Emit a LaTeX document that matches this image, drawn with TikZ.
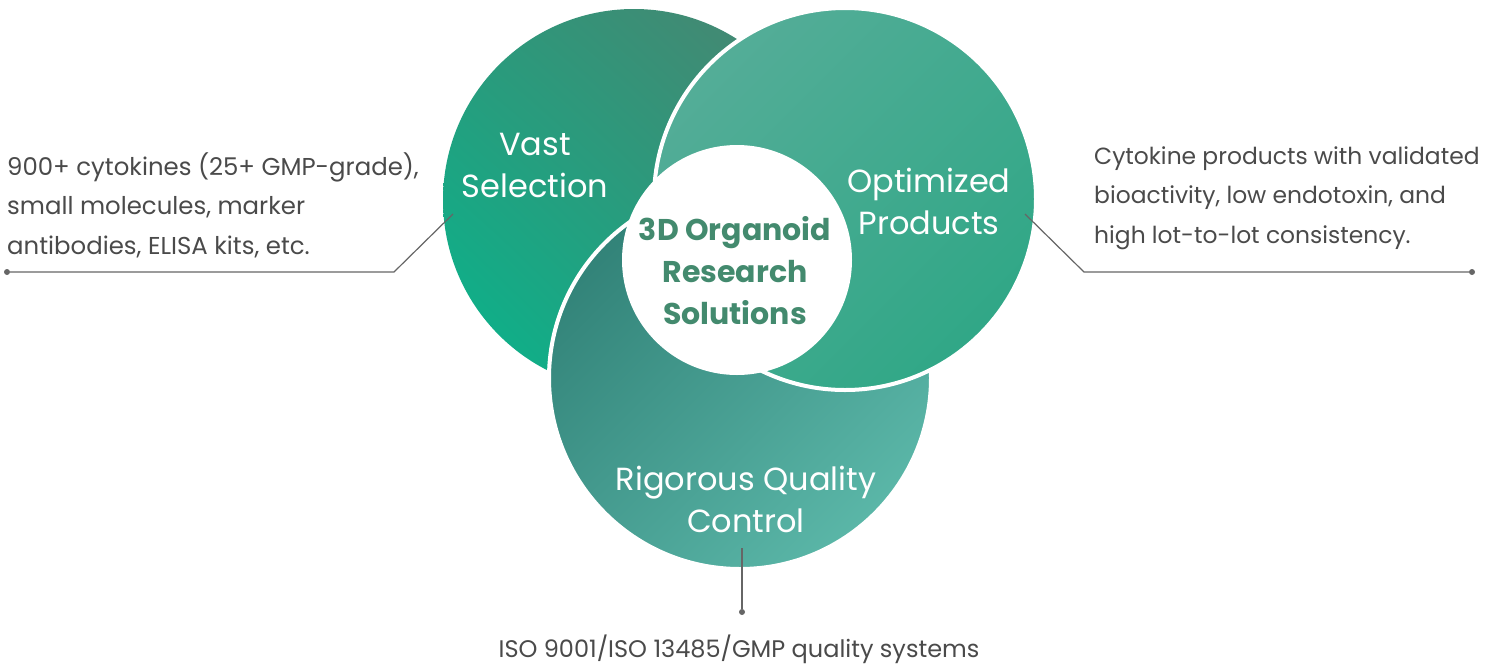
\documentclass[tikz,border=0pt]{standalone}
\usepackage{fontspec}
\usetikzlibrary{shadings}
\setmainfont{Poppins}
\definecolor{labelgray}{HTML}{4A4A4A}
\definecolor{linegray}{HTML}{666666}
\definecolor{coregreen}{HTML}{438A6E}
\definecolor{lA}{HTML}{4C8370}
\definecolor{lB}{HTML}{06B68D}
\definecolor{lM}{HTML}{2B997B}
\definecolor{rA}{HTML}{5BAE9B}
\definecolor{rB}{HTML}{29A683}
\definecolor{rM}{HTML}{42AA8F}
\definecolor{bA}{HTML}{2A786E}
\definecolor{bB}{HTML}{63C1B1}
\definecolor{bM}{HTML}{469D91}
\begin{document}
\begin{tikzpicture}[x=1pt,y=-1pt,
  lbl/.style={font=\fontsize{24}{39.5}\selectfont, text=labelgray, inner sep=0pt},
  circlbl/.style={font=\fontsize{32}{42}\selectfont, text=white, align=center, inner sep=0pt, anchor=base},
  lead/.style={draw=linegray, line width=1.2pt},
  dotn/.style={circle, fill=linegray, inner sep=0pt, minimum size=6pt},
  ring/.style={draw=white, line width=4pt}]
\useasboundingbox (0,0) rectangle (1497,665);
% circles
\shade[upper right=lA, lower left=lB, upper left=lM, lower right=lM] (634,200) circle[radius=191pt];
\shadedraw[ring, upper left=bA, lower right=bB, upper right=bM, lower left=bM] (740,378) circle[radius=191pt];
\shadedraw[ring, upper left=rA, lower right=rB, upper right=rM, lower left=rM] (845,199) circle[radius=191pt];
\node[circle, fill=white, minimum size=230pt, inner sep=0pt] (core) at (737,260) {};
% labels in circles (anchor = baseline of last line)
\node[circlbl] (vast) at (535,197) {Vast\\Selection};
\node[circlbl] (opt) at (929,234) {Optimized\\Products};
\node[circlbl] (rig) at (746,532) {Rigorous Quality\\Control};
\node[font=\bfseries\fontsize{30}{42}\selectfont, text=coregreen, align=center, anchor=base, inner sep=0pt] (coretext) at (735,324) {3D Organoid\\Research\\Solutions};
% leaders
\coordinate (la) at (453,214);
\coordinate (lb) at (394,272);
\node[dotn] (ldot) at (7,272) {};
\draw[lead] (la) -- (lb) -- (ldot);
\coordinate (ra) at (1025,214);
\coordinate (rb) at (1084,272);
\node[dotn] (rdot) at (1472,272) {};
\draw[lead] (ra) -- (rb) -- (rdot);
\coordinate (ba) at (742,548);
\node[dotn] (bdot) at (742,612) {};
\draw[lead] (ba) -- (bdot);
% outer texts
\node[lbl, align=left, anchor=base west, font=\fontsize{24.4}{39.5}\selectfont] (ltext) at (7,254) {900+ cytokines (25+ GMP-grade),\\small molecules, marker\\antibodies, ELISA kits, etc.};
\node[lbl, align=left, anchor=base west, font=\fontsize{23.4}{39.5}\selectfont] (rtext) at (1094,243) {Cytokine products with validated\\bioactivity, low endotoxin, and\\high lot-to-lot consistency.};
\node[lbl, anchor=base] (btext) at (739,657) {ISO 9001/ISO 13485/GMP quality systems};
\end{tikzpicture}
\end{document}
